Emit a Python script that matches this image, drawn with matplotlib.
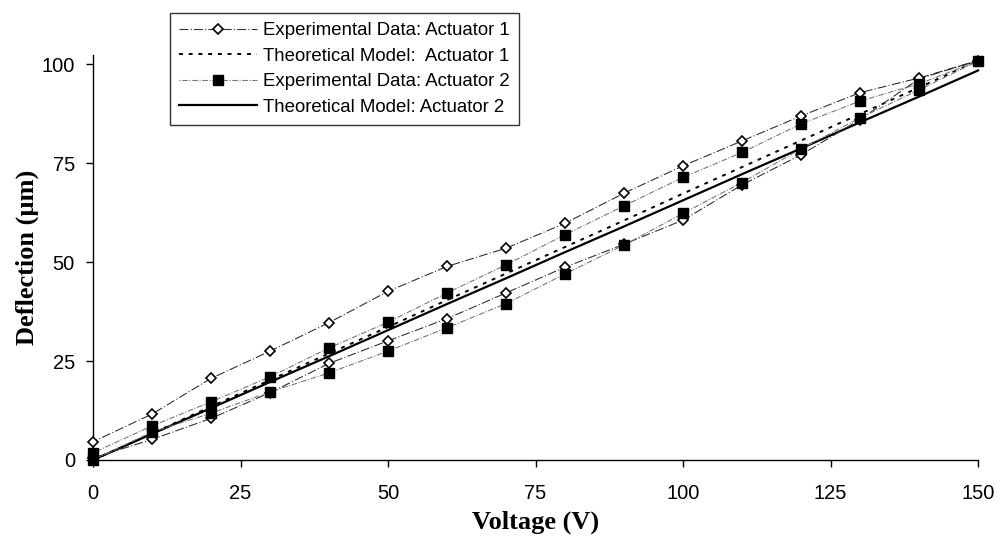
import matplotlib.pyplot as plt

# voltage steps (V)
volts_up = [0, 10, 20, 30, 40, 50, 60, 70, 80, 90, 100, 110, 120, 130, 140, 150]
volts_down = [150, 140, 130, 120, 110, 100, 90, 80, 70, 60, 50, 40, 30, 20, 10, 0]

# actuator 1, experimental (um)
act1_up = [0.5, 5.2, 10.5, 17.0, 24.4, 30.1, 35.7, 42.2, 48.7, 54.5, 60.6, 69.5, 77.1, 86.0, 96.3, 100.9]
act1_down = [100.9, 96.5, 92.8, 86.9, 80.6, 74.3, 67.4, 59.8, 53.5, 48.9, 42.6, 34.7, 27.5, 20.6, 11.6, 4.6]

# actuator 2, experimental (um)
act2_up = [0.0, 7.1, 11.8, 17.2, 22.0, 27.5, 33.4, 39.5, 47.0, 54.3, 62.3, 70.1, 78.6, 86.4, 93.5, 100.8]
act2_down = [100.8, 95.0, 90.7, 84.9, 77.7, 71.4, 64.2, 56.9, 49.3, 42.2, 34.8, 28.3, 21.0, 14.7, 8.6, 1.8]

# theoretical models (um)
theory1 = [0, 6.7, 13.5, 20.2, 26.9, 33.6, 40.4, 47.1, 53.8, 60.5, 67.3, 74.0, 80.7, 87.4, 94.1, 100.9]
theory2 = [0, 6.6, 13.1, 19.7, 26.2, 32.8, 39.4, 45.9, 52.5, 59.0, 65.6, 72.2, 78.7, 85.3, 91.8, 98.4]

sans = ['Liberation Sans', 'DejaVu Sans']
serif = ['Liberation Serif', 'DejaVu Serif']

fig = plt.figure(figsize=(10, 5.45), dpi=100)
ax = fig.add_axes([0.093, 0.156, 0.885, 0.743])

ax.plot(volts_up + volts_down[1:], act1_up + act1_down[1:], color='#333333', lw=0.8,
        linestyle=(0, (8, 2, 1, 2)), marker='D', markersize=5.5, markerfacecolor='white',
        markeredgecolor='black', markeredgewidth=1.2, label='Experimental Data: Actuator 1',
        clip_on=False, zorder=4)
ax.plot(volts_up, theory1, color='black', lw=1.4, linestyle=(0, (2, 3)),
        label='Theoretical Model:  Actuator 1', clip_on=False, zorder=3)
ax.plot(volts_up + volts_down[1:], act2_up + act2_down[1:], color='#777777', lw=0.8,
        linestyle=(0, (1, 1.5, 5, 1.5)), marker='s', markersize=6.5, markerfacecolor='black',
        markeredgecolor='black', label='Experimental Data: Actuator 2', clip_on=False, zorder=5)
ax.plot(volts_up, theory2, color='black', lw=1.6, linestyle='-',
        label='Theoretical Model: Actuator 2', clip_on=False, zorder=3)

ax.set_xlim(0, 150)
ax.set_ylim(0, 102.3)
ax.set_xticks([0, 25, 50, 75, 100, 125, 150])
ax.set_yticks([0, 25, 50, 75, 100])
ax.spines['top'].set_visible(False)
ax.spines['right'].set_visible(False)
for s in ['left', 'bottom']:
    ax.spines[s].set_linewidth(1.0)
ax.tick_params(direction='out', length=5, width=1, labelsize=14.5)
ax.tick_params(axis='x', pad=12)
ax.tick_params(axis='y', pad=8)
for lab in ax.get_xticklabels() + ax.get_yticklabels():
    lab.set_family(sans)

ax.set_xlabel('Voltage (V)', fontsize=19, fontweight='bold', family=serif, labelpad=6)
ax.set_ylabel('Deflection (\u00b5m)', fontsize=19, fontweight='bold', family=serif, labelpad=2)

leg = fig.legend(loc='upper left', bbox_to_anchor=(0.170, 0.976), borderaxespad=0,
                 frameon=True, fancybox=False, edgecolor='black', handlelength=4.2,
                 handletextpad=0.3, borderpad=0.5, labelspacing=0.45,
                 prop={'family': sans, 'size': 13.4})
leg.get_frame().set_linewidth(1.0)

fig.savefig('out.png', dpi=100)
